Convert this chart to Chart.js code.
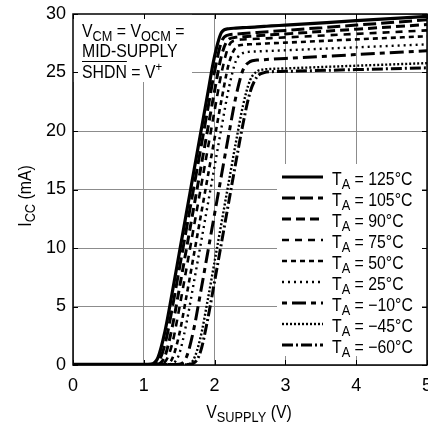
<!DOCTYPE html>
<html>
<head>
<meta charset="utf-8">
<script src="https://cdn.jsdelivr.net/npm/chart.js@4/dist/chart.umd.min.js"></script>
<style>
  html, body { margin: 0; padding: 0; background: #fff; overflow: hidden; }
</style>
</head>
<body>
<canvas id="chart" width="428" height="423"></canvas>
<script>
// supply voltage (V) sample points shared by every curve
const voltage = [0, 1.0, 1.1, 1.2, 1.3, 1.4, 1.5, 1.6, 1.7, 1.8, 1.9, 2.0, 2.1, 2.2, 2.3, 2.4, 2.5, 2.6, 2.7, 2.8, 3.0, 4.0, 5.0];

// supply current (mA) per temperature
const icc125 = [0.05, 0.05, 0.07, 0.64, 2.9, 6.13, 9.52, 12.92, 16.32, 19.72, 23.1, 26.4, 28.45, 28.74, 28.79, 28.83, 28.86, 28.9, 28.94, 28.98, 29.05, 29.43, 29.8];
const icc105 = [0.05, 0.05, 0.05, 0.27, 1.79, 4.8, 8.16, 11.56, 14.96, 18.36, 21.76, 25.1, 27.67, 28.22, 28.29, 28.33, 28.38, 28.42, 28.47, 28.51, 28.6, 29.05, 29.5];
const icc90 = [0.05, 0.05, 0.05, 0.08, 0.78, 3.2, 6.47, 9.86, 13.26, 16.66, 20.06, 23.44, 26.51, 27.85, 28.01, 28.06, 28.1, 28.14, 28.18, 28.22, 28.3, 28.7, 29.1];
const icc75 = [0.05, 0.05, 0.05, 0.05, 0.27, 1.79, 4.8, 8.16, 11.56, 14.96, 18.36, 21.75, 25.03, 27.26, 27.75, 27.82, 27.85, 27.88, 27.91, 27.94, 28.0, 28.3, 28.6];
const icc50 = [0.05, 0.05, 0.05, 0.05, 0.05, 0.52, 2.6, 5.8, 9.18, 12.58, 15.98, 19.38, 22.74, 25.73, 27.14, 27.37, 27.41, 27.44, 27.47, 27.5, 27.55, 27.83, 28.1];
const icc25 = [0.05, 0.05, 0.05, 0.05, 0.05, 0.11, 0.94, 3.51, 6.81, 10.2, 13.6, 17.0, 20.38, 23.63, 25.97, 26.66, 26.77, 26.8, 26.83, 26.85, 26.9, 27.15, 27.4];
const iccM10 = [0.05, 0.05, 0.05, 0.05, 0.05, 0.05, 0.07, 0.64, 2.89, 6.13, 9.52, 12.92, 16.32, 19.7, 22.91, 25.2, 25.93, 26.06, 26.1, 26.14, 26.2, 26.53, 26.85];
const iccM45 = [0.05, 0.05, 0.05, 0.05, 0.05, 0.05, 0.05, 0.05, 0.43, 2.32, 5.46, 8.84, 12.24, 15.64, 19.0, 22.14, 24.33, 25.1, 25.26, 25.31, 25.35, 25.58, 25.8];
const iccM60 = [0.05, 0.05, 0.05, 0.05, 0.05, 0.05, 0.05, 0.05, 0.14, 1.12, 3.83, 7.15, 10.54, 13.94, 17.32, 20.58, 23.29, 24.64, 24.99, 25.07, 25.1, 25.25, 25.4];

const temps = ['125°C', '105°C', '90°C', '75°C', '50°C', '25°C', '\u221210°C', '\u221245°C', '\u221260°C'];
const series = [icc125, icc105, icc90, icc75, icc50, icc25, iccM10, iccM45, iccM60];

const xTicks = [0, 1, 2, 3, 4, 5];
const yTicks = [0, 5, 10, 15, 20, 25, 30];

const FONT = "'Liberation Sans', Arial, sans-serif";
const SX = 0.88; // squeeze to mimic the condensed face

const lineStyles = [
  { dash: [], width: 3.2 },
  { dash: [13, 5], width: 3 },
  { dash: [9, 5], width: 3 },
  { dash: [7, 6], width: 2.6 },
  { dash: [5, 4], width: 2.6 },
  { dash: [2, 4], width: 2.4 },
  { dash: [5, 5, 14, 5], width: 3 },
  { dash: [2, 2], width: 2.4 },
  { dash: [11, 3, 2, 3], width: 3 },
];

// text pieces: '' normal, 'sub' subscript, 'sup' superscript
function pieceFont(k) {
  return (k === 'sub' ? '14.5px ' : k === 'sup' ? '13px ' : '18px ') + FONT;
}

function richWidth(ctx, parts) {
  let w = 0;
  parts.forEach(([t, k]) => {
    ctx.font = pieceFont(k);
    w += ctx.measureText(t).width;
  });
  return w * SX;
}

function richText(ctx, parts, x, y) {
  ctx.save();
  ctx.translate(x, y);
  ctx.scale(SX, 1);
  let cx = 0;
  parts.forEach(([t, k]) => {
    ctx.font = pieceFont(k);
    const dy = k === 'sub' ? 3.5 : k === 'sup' ? -7 : 0;
    ctx.fillText(t, cx, dy);
    cx += ctx.measureText(t).width;
  });
  ctx.restore();
  return cx * SX;
}

const decor = {
  id: 'decor',
  beforeDatasetsDraw(chart) {
    const ctx = chart.ctx;
    const a = chart.chartArea;
    ctx.save();
    ctx.fillStyle = '#fff';
    // note box top-left, legend box lower right
    ctx.fillRect(a.left, a.top, 119, 68);
    ctx.fillRect(277, 164, 145, 192);
    ctx.restore();
  },
  afterDatasetsDraw(chart) {
    const ctx = chart.ctx;
    const a = chart.chartArea;
    const xs = chart.scales.x;
    const ys = chart.scales.y;
    ctx.save();

    // frame and inner ticks
    ctx.strokeStyle = '#000';
    ctx.lineWidth = 1.5;
    ctx.setLineDash([]);
    ctx.strokeRect(a.left, a.top, a.right - a.left, a.bottom - a.top);
    ctx.lineWidth = 1;
    ctx.beginPath();
    xTicks.forEach(v => {
      const px = Math.round(xs.getPixelForValue(v)) + 0.5;
      ctx.moveTo(px, a.bottom); ctx.lineTo(px, a.bottom - 5);
      ctx.moveTo(px, a.top); ctx.lineTo(px, a.top + 5);
    });
    yTicks.forEach(v => {
      const py = Math.round(ys.getPixelForValue(v)) + 0.5;
      ctx.moveTo(a.left, py); ctx.lineTo(a.left + 5, py);
      ctx.moveTo(a.right, py); ctx.lineTo(a.right - 5, py);
    });
    ctx.stroke();

    ctx.fillStyle = '#000';
    ctx.textBaseline = 'alphabetic';
    ctx.textAlign = 'left';

    // condition note
    richText(ctx, [['V', ''], ['CM', 'sub'], [' = V', ''], ['OCM', 'sub'], [' =', '']], 82, 37);
    richText(ctx, [['MID-SUPPLY', '']], 82, 57);
    const shdnW = richWidth(ctx, [['SHDN', '']]);
    richText(ctx, [['SHDN = V', ''], ['+', 'sup']], 82, 78);
    ctx.beginPath();
    ctx.moveTo(82, 61.5); ctx.lineTo(82 + shdnW, 61.5);
    ctx.stroke();

    // legend
    chart.data.datasets.forEach((ds, i) => {
      const ly = 177 + 21 * i;
      ctx.save();
      ctx.strokeStyle = '#000';
      ctx.lineWidth = ds.borderWidth;
      ctx.setLineDash(ds.borderDash);
      ctx.beginPath();
      ctx.moveTo(282, ly); ctx.lineTo(323, ly);
      ctx.stroke();
      ctx.restore();
      richText(ctx, [['T', ''], ['A', 'sub'], [' = ' + temps[i], '']], 332, ly + 8);
    });

    // axis titles
    const xt = [['V', ''], ['SUPPLY', 'sub'], [' (V)', '']];
    richText(ctx, xt, 249 - richWidth(ctx, xt) / 2, 418);

    const yt = [['I', ''], ['CC', 'sub'], [' (mA)', '']];
    ctx.translate(31, 196);
    ctx.rotate(-Math.PI / 2);
    richText(ctx, yt, -richWidth(ctx, yt) / 2, 0);

    ctx.restore();
  }
};

new Chart(document.getElementById('chart'), {
  type: 'line',
  data: {
    datasets: series.map((ys, i) => ({
      label: 'TA = ' + temps[i],
      data: voltage.map((v, j) => ({ x: v, y: ys[j] })),
      borderColor: '#000',
      borderWidth: lineStyles[i].width,
      borderDash: lineStyles[i].dash,
      pointRadius: 0,
      fill: false,
      cubicInterpolationMode: 'monotone',
    })),
  },
  options: {
    responsive: false,
    animation: false,
    devicePixelRatio: 1,
    layout: { padding: { top: 14, right: 1, left: 0, bottom: 0 } },
    plugins: {
      legend: { display: false },
      tooltip: { enabled: false },
    },
    scales: {
      x: {
        type: 'linear',
        min: 0,
        max: 5,
        afterBuildTicks: s => { s.ticks = xTicks.map(v => ({ value: v })); },
        afterFit: s => { s.height = 58; s.paddingLeft = 0; s.paddingRight = 0; },
        grid: { color: '#8c8c8c', lineWidth: 1, drawTicks: false },
        border: { display: false },
        ticks: { padding: 10, color: '#000', maxRotation: 0, autoSkip: false, font: { family: FONT, size: 18 } },
      },
      y: {
        min: 0,
        max: 30,
        afterBuildTicks: s => { s.ticks = yTicks.map(v => ({ value: v })); },
        afterFit: s => { s.width = 73; s.paddingTop = 0; s.paddingBottom = 0; },
        grid: { color: '#8c8c8c', lineWidth: 1, drawTicks: false },
        border: { display: false },
        ticks: { padding: 7, color: '#000', font: { family: FONT, size: 18 } },
      },
    },
  },
  plugins: [decor],
});
</script>
</body>
</html>
